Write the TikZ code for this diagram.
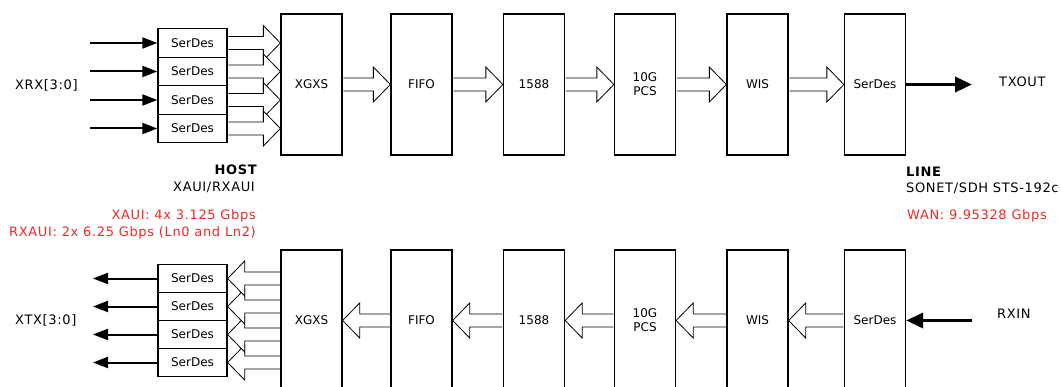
\documentclass[tikz,border=0pt]{standalone}
\usepackage{fontspec}
\setmainfont{DejaVu Sans}
\newfontfamily\spaced[LetterSpace=5]{DejaVu Sans}
\usetikzlibrary{arrows.meta,calc}
\definecolor{redtxt}{RGB}{240,40,40}
\newcommand\fatR[2]{\filldraw[fatline] let \p1=(#1),\p2=(#2) in
  (\x1+0.6pt,\y1-6.5pt) -- (\x2-17pt,\y1-6.5pt) -- (\x2-17pt,\y1-17.5pt) -- (\x2,\y1)
  -- (\x2-17pt,\y1+17.5pt) -- (\x2-17pt,\y1+6.5pt) -- (\x1+0.6pt,\y1+6.5pt);}
\newcommand\fatL[2]{\filldraw[fatline] let \p1=(#1),\p2=(#2) in
  (\x1-0.6pt,\y1-6.5pt) -- (\x2+17pt,\y1-6.5pt) -- (\x2+17pt,\y1-17.5pt) -- (\x2,\y1)
  -- (\x2+17pt,\y1+17.5pt) -- (\x2+17pt,\y1+6.5pt) -- (\x1-0.6pt,\y1+6.5pt);}
\begin{document}
\begin{tikzpicture}[x=1pt,y=-1pt,
  font=\fontsize{12}{14}\selectfont,
  blk/.style={draw, line width=1.3pt, minimum width=61pt, minimum height=141pt, inner sep=0pt, align=center},
  sd/.style={draw, line width=1.3pt, minimum width=69pt, minimum height=28.5pt, inner sep=0pt},
  fatline/.style={draw=black, fill=white, line width=0.8pt, line join=miter},
  thin/.style={line width=2pt, -{Triangle[length=15pt,width=11pt]}},
  thick/.style={line width=3.5pt, -{Triangle[length=17pt,width=15pt]}},
  lbl/.style={inner sep=0pt, font=\fontsize{13}{15}\selectfont\spaced},
  red/.style={inner sep=0pt, text=redtxt, font=\fontsize{13}{15}\selectfont\spaced}]
\useasboundingbox (0,0) rectangle (1062,387);
\clip (0,0) rectangle (1062,387);
% top row
\node[blk] (xgxs) at (311.5,84.5) {XGXS};
\node[blk] (fifo) at (421.5,84.5) {FIFO};
\node[blk] (p1588) at (534,84.5) {1588};
\node[blk] (pcs) at (645,84.5) {10G\\PCS};
\node[blk] (wis) at (757.5,84.5) {WIS};
\node[blk] (sdl) at (875,84.5) {SerDes};
\foreach \i/\y in {1/43,2/71.5,3/100,4/128.5}{
  \node[sd] (s\i) at (192.5,\y) {SerDes};
  \coordinate (in\i) at (90,\y);
  \draw[thin] (in\i) -- (s\i.west);
}
\foreach \i in {1,2,3,4}{ \fatR{s\i.east}{xgxs.west |- s\i.east} }
\fatR{xgxs.east}{fifo.west}
\fatR{fifo.east}{p1588.west}
\fatR{p1588.east}{pcs.west}
\fatR{pcs.east}{wis.west}
\fatR{wis.east}{sdl.west}
\coordinate (txo) at (972,84.5);
\draw[thick] (sdl.east) -- (txo);
\node[lbl, anchor=west] (txout) at (999,82) {TXOUT};
\node[lbl, anchor=west] (xrx) at (15,85) {XRX[3:0]};
% bottom row
\node[blk] (bxgxs) at (311.5,320.5) {XGXS};
\node[blk] (bfifo) at (421.5,320.5) {FIFO};
\node[blk] (b1588) at (534,320.5) {1588};
\node[blk] (bpcs) at (645,320.5) {10G\\PCS};
\node[blk] (bwis) at (757.5,320.5) {WIS};
\node[blk] (bsdl) at (875,320.5) {SerDes};
\foreach \i/\y in {1/278.5,2/306.5,3/334.5,4/362.5}{
  \node[sd] (t\i) at (192.5,\y) {SerDes};
  \coordinate (out\i) at (93,\y);
  \draw[thin] (t\i.west) -- (out\i);
}
\foreach \i in {4,3,2,1}{ \fatL{bxgxs.west |- t\i.east}{t\i.east} }
\fatL{bfifo.west}{bxgxs.east}
\fatL{b1588.west}{bfifo.east}
\fatL{bpcs.west}{b1588.east}
\fatL{bwis.west}{bpcs.east}
\fatL{bsdl.west}{bwis.east}
\coordinate (rxi) at (972,320.5);
\draw[thick] (rxi) -- (bsdl.east);
\node[lbl, anchor=west] (rxin) at (997,314) {RXIN};
\node[lbl, anchor=west] (xtx) at (15,320) {XTX[3:0]};
% labels
\node[lbl, anchor=east, font=\fontsize{13}{15}\selectfont\spaced\bfseries] (host) at (257,170) {HOST};
\node[lbl, anchor=east] (xaui) at (255,187) {XAUI/RXAUI};
\node[red, anchor=east] (r1) at (256,216) {XAUI:\ 4x 3.125 Gbps};
\node[red, anchor=east] (r2) at (256,232.5) {RXAUI:\ 2x 6.25 Gbps (Ln0 and Ln2)};
\node[lbl, anchor=west, font=\fontsize{13}{15}\selectfont\spaced\bfseries] (line) at (906,172) {LINE};
\node[lbl, anchor=west] (sonet) at (906,188) {SONET/SDH STS-192c};
\node[red, anchor=west] (wan) at (907,216) {WAN:\ 9.95328 Gbps};
\end{tikzpicture}
\end{document}
